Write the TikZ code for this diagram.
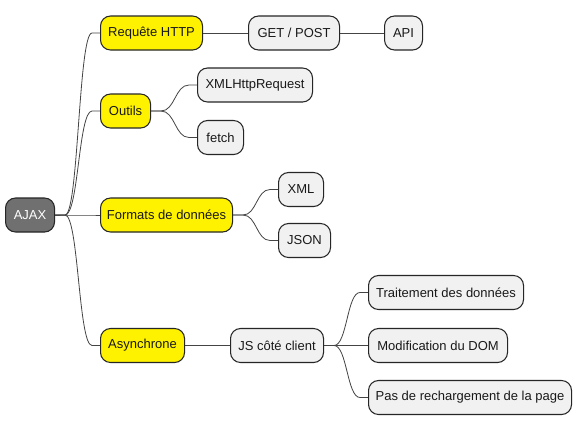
\documentclass[tikz,border=0pt]{standalone}
\usepackage{fontspec}
\setmainfont{Liberation Sans}
\usetikzlibrary{calc}
\definecolor{boxgray}{HTML}{F1F1F1}
\definecolor{rootgray}{HTML}{707070}
\definecolor{lineg}{HTML}{444444}
\tikzset{
  box/.style={draw=black!85, line width=0.8pt, rounded corners=7.5pt, fill=boxgray,
    minimum height=25.5pt, inner sep=0pt, anchor=west, align=center,
    font=\fontsize{9.75}{12}\selectfont, text=black!90},
  lvl1/.style={box, fill=yellow},
  root/.style={box, fill=rootgray, text=white},
  link/.style={draw=lineg, line width=0.6pt},
}
\newcommand{\conn}[2]{%
  \draw[link] let \p1=($(#1.east)+(7.5pt,0)$), \p2=($(#2.west)+(-6pt,0)$) in
    (#1.east) -- (\p1) .. controls ({0.5*\x1+0.5*\x2},\y1) and ({0.5*\x1+0.5*\x2},\y2) .. (\p2) -- (#2.west);}
\begin{document}
\begin{tikzpicture}[x=0.75pt,y=-0.75pt]
\useasboundingbox[fill=white] (0,0) rectangle (581,429);
% nodes
\node[root, minimum width=36.75pt] (ajax) at (5,215) {AJAX};
\node[lvl1, minimum width=76.5pt] (req) at (100,33) {Requête HTTP};
\node[box, minimum width=68.25pt] (get) at (248,33) {GET / POST};
\node[box, minimum width=28.5pt] (api) at (384,33) {API};
\node[lvl1, minimum width=37.5pt] (out) at (100,111) {Outils};
\node[box, minimum width=86.25pt] (xhr) at (197,85) {XMLHttpRequest};
\node[box, minimum width=34.5pt] (fetch) at (197,137.5) {fetch};
\node[lvl1, minimum width=99pt] (fmt) at (100,215) {Formats de données};
\node[box, minimum width=33.75pt] (xml) at (278,189.5) {XML};
\node[box, minimum width=39pt] (json) at (278,240.5) {JSON};
\node[lvl1, minimum width=63pt] (async) at (100,345.5) {Asynchrone};
\node[box, minimum width=69.75pt] (js) at (230,345.5) {JS côté client};
\node[box, minimum width=116.25pt] (trait) at (368,292.5) {Traitement des données};
\node[box, minimum width=104.25pt] (dom) at (368,345.5) {Modification du DOM};
\node[box, minimum width=152.25pt] (pas) at (368,397.5) {Pas de rechargement de la page};
% connectors
\conn{ajax}{req}
\conn{ajax}{out}
\conn{ajax}{fmt}
\conn{ajax}{async}
\draw[link] (req.east) -- (get.west);
\draw[link] (get.east) -- (api.west);
\conn{out}{xhr}
\conn{out}{fetch}
\conn{fmt}{xml}
\conn{fmt}{json}
\draw[link] (async.east) -- (js.west);
\conn{js}{trait}
\conn{js}{dom}
\conn{js}{pas}
\end{tikzpicture}
\end{document}
